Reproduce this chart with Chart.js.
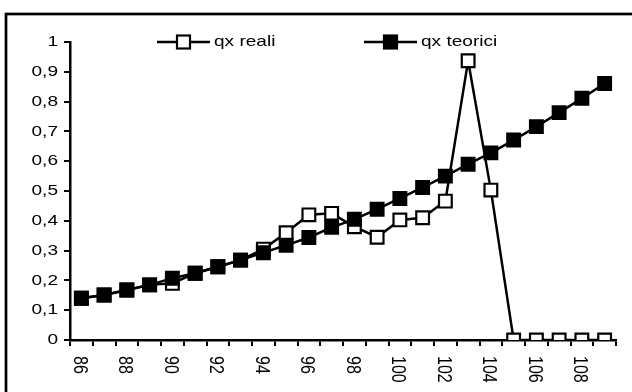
<!DOCTYPE html>
<html>
<head>
<meta charset="utf-8">
<script src="https://cdn.jsdelivr.net/npm/chart.js@4"></script>
<style>
  html, body { margin: 0; padding: 0; background: #fff; }
  canvas { display: block; }
</style>
</head>
<body>
<canvas id="chart" width="632" height="392"></canvas>
<script>
// eta (x) e probabilità di morte
const ages = ['86','87','88','89','90','91','92','93','94','95','96','97','98','99','100','101','102','103','104','105','106','107','108','109'];
const qxReali = [0.14, 0.151, 0.168, 0.185, 0.19, 0.224, 0.246, 0.268, 0.305, 0.36, 0.42, 0.425, 0.38, 0.345, 0.403, 0.41, 0.466, 0.937, 0.503, 0, 0, 0, 0, 0];
const qxTeorici = [0.14, 0.151, 0.168, 0.185, 0.207, 0.224, 0.246, 0.268, 0.293, 0.318, 0.344, 0.378, 0.405, 0.439, 0.475, 0.512, 0.55, 0.59, 0.628, 0.671, 0.716, 0.763, 0.811, 0.861];
const xTickLabels = ['86','88','90','92','94','96','98','100','102','104','106','108'];
const yTickLabels = ['0','0,1','0,2','0,3','0,4','0,5','0,6','0,7','0,8','0,9','1'];

const FONT = '15px "Liberation Sans", Arial, sans-serif';
const XFONT = '16px "Liberation Sans", Arial, sans-serif';
const STRETCH = 1.27; // il testo originale è allargato in orizzontale

// etichette, legenda e cornice disegnate a mano
const decorPlugin = {
    id: 'decor',
    afterDraw(chart) {
        const ctx = chart.ctx;
        const xs = chart.scales.x;
        const ys = chart.scales.y;

        // cornice esterna
        ctx.save();
        ctx.strokeStyle = '#000';
        ctx.lineWidth = 2.7;
        ctx.strokeRect(6, 14, 700, 500);
        ctx.restore();

        ctx.save();
        ctx.fillStyle = '#000';
        ctx.font = FONT;

        // etichette asse y
        yTickLabels.forEach((lab, i) => {
            const y = ys.getPixelForValue(i / 10);
            ctx.save();
            ctx.translate(58, y);
            ctx.scale(STRETCH, 1);
            ctx.textAlign = 'right';
            ctx.textBaseline = 'middle';
            ctx.fillText(lab, 0, 0);
            ctx.restore();
        });

        // etichette asse x, ruotate verso il basso
        ctx.font = XFONT;
        xTickLabels.forEach(lab => {
            const x = xs.getPixelForValue(ages.indexOf(lab)) - 2;
            ctx.save();
            ctx.translate(x, 356);
            ctx.scale(STRETCH, 1);
            ctx.rotate(Math.PI / 2);
            ctx.textAlign = 'left';
            ctx.textBaseline = 'middle';
            ctx.fillText(lab, 0, 0);
            ctx.restore();
        });
        ctx.font = FONT;

        // legenda
        const items = [
            { label: 'qx reali', x0: 157, x1: 210, fill: '#fff' },
            { label: 'qx teorici', x0: 364, x1: 417, fill: '#000' }
        ];
        const ly = 42;
        items.forEach(it => {
            ctx.strokeStyle = '#000';
            ctx.lineWidth = 2.5;
            ctx.beginPath();
            ctx.moveTo(it.x0, ly);
            ctx.lineTo(it.x1, ly);
            ctx.stroke();
            const cx = (it.x0 + it.x1) / 2;
            ctx.fillStyle = it.fill;
            ctx.fillRect(cx - 6.5, ly - 6.5, 13, 13);
            ctx.lineWidth = 2.2;
            ctx.strokeRect(cx - 6.5, ly - 6.5, 13, 13);
            ctx.save();
            ctx.fillStyle = '#000';
            ctx.translate(it.x1 + 4, ly);
            ctx.scale(STRETCH, 1);
            ctx.textAlign = 'left';
            ctx.textBaseline = 'middle';
            ctx.fillText(it.label, 0, 0);
            ctx.restore();
        });
        ctx.restore();
    }
};

const axisGrid = {
    drawOnChartArea: false,
    drawTicks: true,
    tickLength: 6,
    color: '#000',
    lineWidth: 2
};

new Chart(document.getElementById('chart'), {
    type: 'line',
    data: {
        labels: ages,
        datasets: [
            {
                label: 'qx reali',
                data: qxReali,
                order: 2,
                borderColor: '#000',
                borderWidth: 2.5,
                tension: 0,
                pointStyle: 'rect',
                pointRadius: 9,
                pointBorderWidth: 2.2,
                pointBackgroundColor: '#fff',
                pointBorderColor: '#000'
            },
            {
                label: 'qx teorici',
                data: qxTeorici,
                order: 1,
                borderColor: '#000',
                borderWidth: 2.5,
                tension: 0,
                pointStyle: 'rect',
                pointRadius: 9,
                pointBorderWidth: 2.2,
                pointBackgroundColor: '#000',
                pointBorderColor: '#000'
            }
        ]
    },
    options: {
        responsive: false,
        devicePixelRatio: 1,
        animation: false,
        layout: {
            autoPadding: false,
            padding: { left: 64, top: 42, right: 16, bottom: 46 }
        },
        plugins: {
            legend: { display: false },
            tooltip: { enabled: false }
        },
        scales: {
            x: {
                type: 'category',
                offset: true,
                grid: { ...axisGrid, offset: true },
                border: { display: true, color: '#000', width: 2.5 },
                ticks: { display: false }
            },
            y: {
                min: 0,
                max: 1,
                ticks: { display: false, stepSize: 0.1 },
                grid: axisGrid,
                border: { display: true, color: '#000', width: 2.5 }
            }
        }
    },
    plugins: [decorPlugin]
});
</script>
</body>
</html>
